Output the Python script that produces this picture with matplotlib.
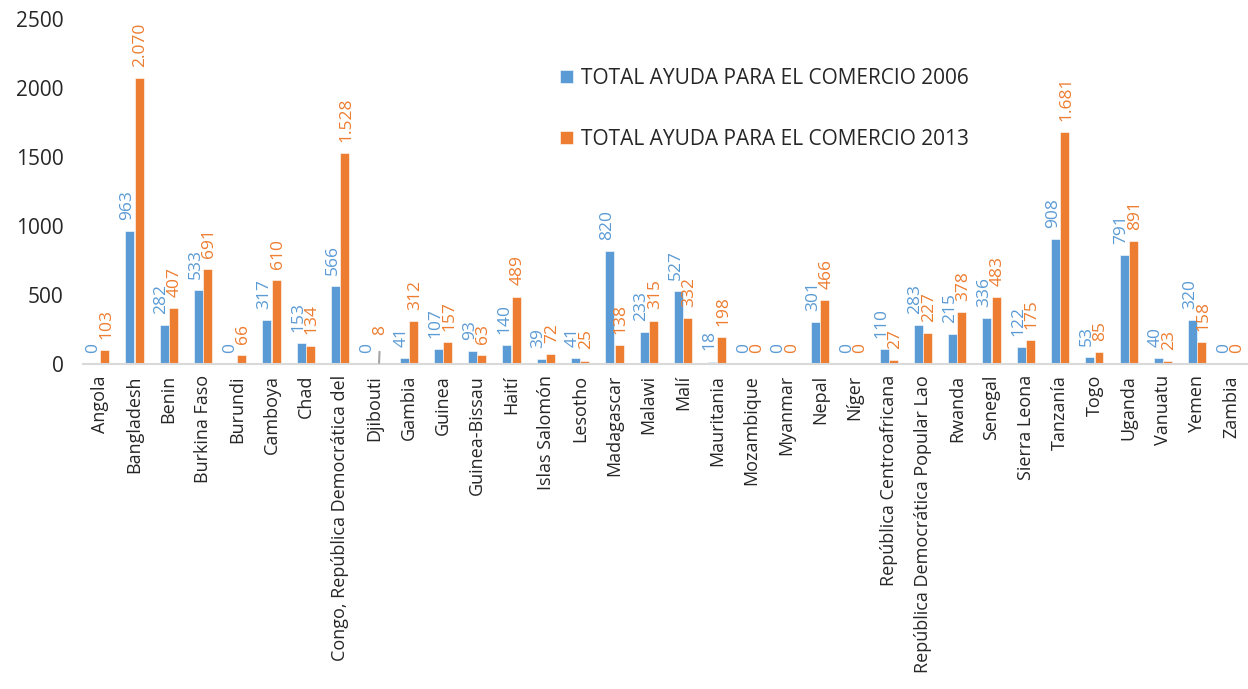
import matplotlib
matplotlib.use("Agg")
import matplotlib.pyplot as plt
import numpy as np

plt.rcParams['font.family'] = ['Open Sans', 'DejaVu Sans']

countries = ["Angola", "Bangladesh", "Benin", "Burkina Faso", "Burundi", "Camboya", "Chad",
             "Congo, República Democrática del", "Djibouti", "Gambia", "Guinea", "Guinea-Bissau",
             "Haití", "Islas Salomón", "Lesotho", "Madagascar", "Malawi", "Malí", "Mauritania",
             "Mozambique", "Myanmar", "Nepal", "Níger", "República Centroafricana",
             "República Democrática Popular Lao", "Rwanda", "Senegal", "Sierra Leona", "Tanzanía",
             "Togo", "Uganda", "Vanuatu", "Yemen", "Zambia"]
ayuda_2006 = [0, 963, 282, 533, 0, 317, 153, 566, 0, 41, 107, 93, 140, 39, 41, 820, 233, 527, 18,
              0, 0, 301, 0, 110, 283, 215, 336, 122, 908, 53, 791, 40, 320, 0]
ayuda_2013 = [103, 2070, 407, 691, 66, 610, 134, 1528, 8, 312, 157, 63, 489, 72, 25, 138, 315, 332, 198,
              0, 0, 466, 0, 27, 227, 378, 483, 175, 1681, 85, 891, 23, 158, 0]
series_names = ["TOTAL AYUDA PARA EL COMERCIO 2006", "TOTAL AYUDA PARA EL COMERCIO 2013"]
yticks = [0, 500, 1000, 1500, 2000, 2500]

BLUE = "#5B9BD5"
ORANGE = "#ED7D31"

def fmt(v):
    return f"{v:,}".replace(",", ".")

fig = plt.figure(figsize=(12.48, 6.89), dpi=100)
ax = fig.add_axes([83/1248, 1-364/689, 1-83/1248, (364-19)/689])

x = np.arange(len(countries))
w = 0.26
off = 0.135
b1 = ax.bar(x - off, ayuda_2006, width=w, color=BLUE, edgecolor="white", linewidth=0.4,
            label=series_names[0])
b2 = ax.bar(x + off, ayuda_2013, width=w, color=ORANGE, edgecolor="white", linewidth=0.4,
            label=series_names[1])

LFS = 12.5
for xi, v in zip(x - off, ayuda_2006):
    ax.annotate(fmt(v), xy=(xi, v), xytext=(-2, 8), textcoords="offset points",
                rotation=90, ha="center", va="bottom", color=BLUE, fontsize=LFS,
                annotation_clip=False)
for i, (xi, v) in enumerate(zip(x + off, ayuda_2013)):
    if countries[i] == "Djibouti":
        ax.annotate(fmt(v), xy=(xi, v), xytext=(1, 20), textcoords="offset points",
                    rotation=90, ha="center", va="bottom", color=ORANGE, fontsize=LFS,
                    annotation_clip=False,
                    arrowprops=dict(arrowstyle="-", color="#A5A5A5", lw=1.5,
                                    shrinkA=10, shrinkB=0))
    else:
        ax.annotate(fmt(v), xy=(xi, v), xytext=(1, 8), textcoords="offset points",
                    rotation=90, ha="center", va="bottom", color=ORANGE, fontsize=LFS,
                    annotation_clip=False)

ax.set_xlim(-0.5, 33.48)
ax.set_ylim(0, 2500)
ax.set_yticks(yticks)
ax.set_yticklabels([str(t) for t in yticks], fontsize=15, color="#262626")
ax.set_xticks(x)
ax.set_xticklabels(countries, rotation=90, fontsize=13, color="#262626")
ax.tick_params(axis="both", length=0)
ax.tick_params(axis="y", pad=14)
ax.tick_params(axis="x", pad=8)
for s in ["top", "right", "left"]:
    ax.spines[s].set_visible(False)
ax.spines["bottom"].set_color("#D9D9D9")
ax.spines["bottom"].set_linewidth(1.5)

fig.legend(handles=[b1, b2], labels=series_names, loc="upper left",
           bbox_to_anchor=(560/1248, 1-68/689), frameon=False, fontsize=15,
           handlelength=0.6, handleheight=0.6, handletextpad=0.4, labelspacing=1.9,
           borderpad=0, borderaxespad=0, labelcolor="#262626")

fig.savefig("out.png", dpi=100)
